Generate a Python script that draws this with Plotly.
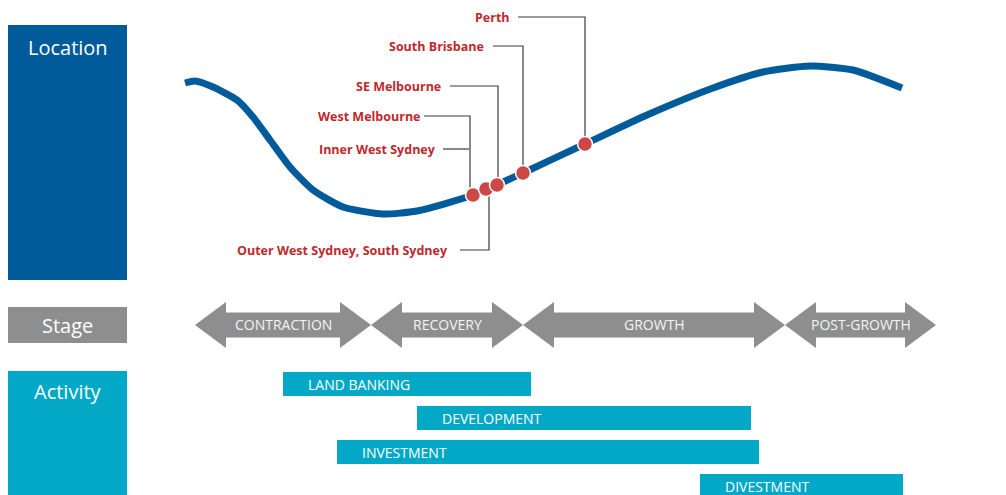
import plotly.graph_objects as go

# ---- data ----
curve_x = [185, 195, 213, 237, 253, 270, 290, 313, 343, 383, 417, 473, 523, 587, 647, 713, 763, 810, 853, 902]
curve_y = [83, 81, 87, 100, 117, 140, 167, 190, 207, 214, 211, 195, 173, 143, 115, 88, 72, 66, 70, 88]

dot_x = [473, 486, 497, 523, 585]
dot_y = [195, 189, 185, 173, 144]

loc_labels = ["Perth", "South Brisbane", "SE Melbourne", "West Melbourne",
              "Inner West Sydney", "Outer West Sydney, South Sydney"]
loc_label_xend = [512, 486, 443, 422, 438, 450]
loc_label_y = [17, 46, 86, 116, 149, 250]
leader_start_x = [518, 493, 450, 424, 443, 460]
leader_elbow_x = [585, 523, 498, 470, 469, 489]
leader_end_y = [137, 166, 178, 188, 149, 196]

stages = ["CONTRACTION", "RECOVERY", "GROWTH", "POST-GROWTH"]
stage_bounds = [195, 371, 523, 785, 936]

activities = ["LAND BANKING", "DEVELOPMENT", "INVESTMENT", "DIVESTMENT"]
act_start = [283, 417, 337, 700]
act_end = [531, 751, 759, 903]
act_row = [384, 418, 452, 486]

side_labels = ["Location", "Stage", "Activity"]

# ---- styles ----
BLUE = "#005B9B"
GRAY = "#8E8E8E"
TEAL = "#03A8C7"
RED = "#C0282D"
DOT = "#CD4747"
FONT = "Open Sans"
OFF = 8  # page body margin compensation

fig = go.Figure()

# side panels
panels = [(8, 127, 25, 280, BLUE, 47), (8, 127, 307, 343, GRAY, 325), (8, 127, 371, 510, TEAL, 391)]
for (x0, x1, y0, y1, col, ty), lab in zip(panels, side_labels):
    fig.add_shape(type="rect", xref="x", yref="y", x0=x0, x1=x1, y0=y0, y1=y1,
                  fillcolor=col, line_width=0, layer="below")
    fig.add_annotation(x=(x0 + x1) / 2, y=ty, xref="x", yref="y", text=lab, showarrow=False,
                       font=dict(family=FONT, size=20, color="white"))

# cycle curve
fig.add_trace(go.Scatter(x=curve_x, y=curve_y, mode="lines",
                         line=dict(color=BLUE, width=7, shape="spline", smoothing=0.6),
                         hoverinfo="skip"))

# leader lines
for i in range(len(loc_labels)):
    fig.add_trace(go.Scatter(
        x=[leader_start_x[i], leader_elbow_x[i], leader_elbow_x[i]],
        y=[loc_label_y[i], loc_label_y[i], leader_end_y[i]],
        mode="lines", line=dict(color="#3A3A3A", width=1.2), hoverinfo="skip"))

# dots
fig.add_trace(go.Scatter(x=dot_x, y=dot_y, mode="markers",
                         marker=dict(size=15, color=DOT, line=dict(color="white", width=1.5)),
                         hoverinfo="skip"))

# location labels
for lab, xe, y in zip(loc_labels, loc_label_xend, loc_label_y):
    fig.add_annotation(x=xe, y=y, xref="x", yref="y", text="<b>" + lab + "</b>",
                       showarrow=False, xanchor="right",
                       font=dict(family=FONT, size=12.5, color=RED))

# stage arrows
cy = 325
shaft_h = 12.5
head_h = 23
head_len = 31
for i, name in enumerate(stages):
    a, b = stage_bounds[i], stage_bounds[i + 1]
    path = (f"M {a},{cy} L {a + head_len},{cy - head_h} L {a + head_len},{cy - shaft_h} "
            f"L {b - head_len},{cy - shaft_h} L {b - head_len},{cy - head_h} L {b},{cy} "
            f"L {b - head_len},{cy + head_h} L {b - head_len},{cy + shaft_h} "
            f"L {a + head_len},{cy + shaft_h} L {a + head_len},{cy + head_h} Z")
    fig.add_shape(type="path", xref="x", yref="y", path=path, fillcolor=GRAY, line_width=0)
    fig.add_annotation(x=(a + b) / 2, y=cy - 1, xref="x", yref="y", text=name, showarrow=False,
                       font=dict(family=FONT, size=14, color="#F4F4F4"))

# activity bars
fig.add_trace(go.Bar(y=act_row, x=[e - s for s, e in zip(act_start, act_end)], base=act_start,
                     orientation="h", width=24, marker=dict(color=TEAL, line=dict(width=0)),
                     hoverinfo="skip"))
for name, s, r in zip(activities, act_start, act_row):
    fig.add_annotation(x=s + 23, y=r, xref="x", yref="y", text=name, showarrow=False,
                       xanchor="left", font=dict(family=FONT, size=14, color="white"))

fig.update_layout(
    width=1006, height=495, margin=dict(l=0, r=0, t=0, b=0),
    paper_bgcolor="white", plot_bgcolor="white", showlegend=False,
    xaxis=dict(range=[OFF, 1006 + OFF], visible=False, fixedrange=True),
    yaxis=dict(range=[495 + OFF, OFF], visible=False, fixedrange=True),
    bargap=0,
)

fig.write_html("out.html")
